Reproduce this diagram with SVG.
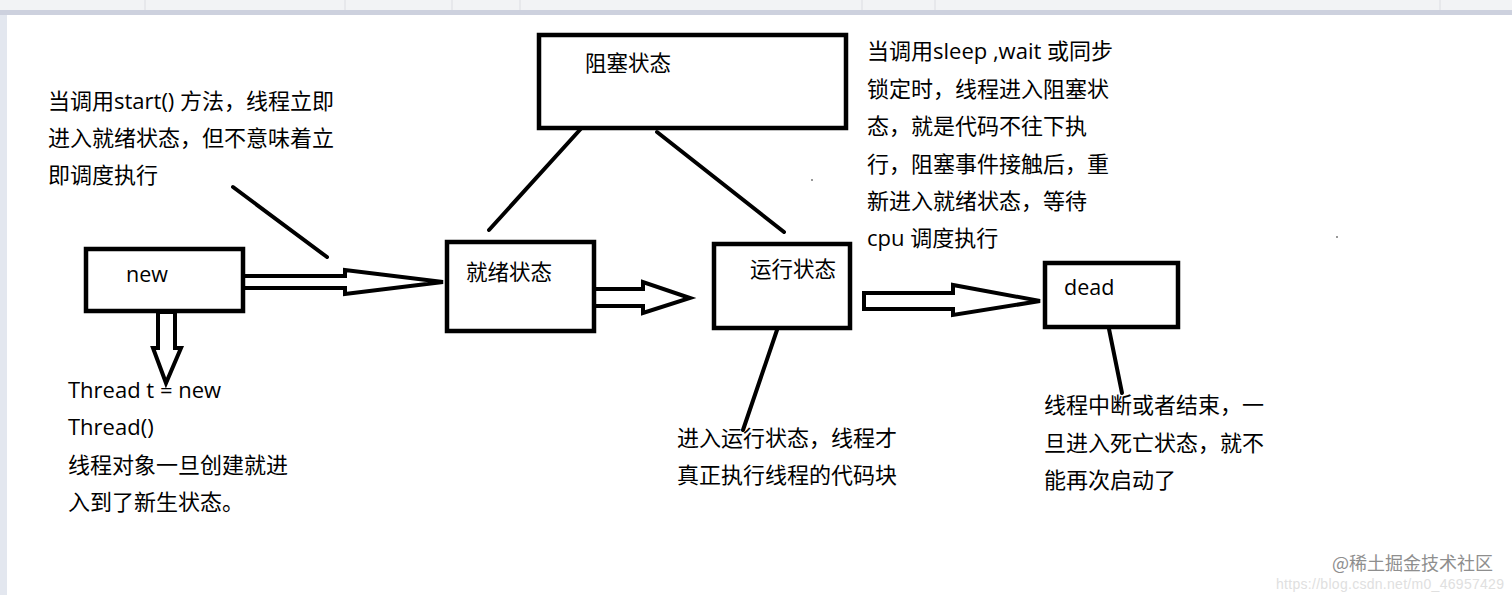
<svg xmlns="http://www.w3.org/2000/svg" width="1512" height="595" viewBox="0 0 1512 595">
<style>
.box{fill:#fff;stroke:#000;stroke-width:4.5}
.lbl{font-family:"Open Sans","Noto Sans CJK SC",sans-serif;font-size:21.5px;fill:#000}
.note{font-family:"Open Sans","Noto Sans CJK SC",sans-serif;font-size:22px;fill:#000}
.ln{stroke:#000;stroke-width:4;fill:none;stroke-linecap:round}
.blk{fill:#fff;stroke:#000;stroke-width:4;stroke-linejoin:miter}
</style>
<rect x="0" y="0" width="1512" height="595" fill="#fff"/>
<g id="chrome">
<rect x="0" y="0" width="1512" height="10" fill="#f2f3f5"/>
<g stroke="#dcdde2" stroke-width="1">
<line x1="145" y1="0" x2="145" y2="10"/><line x1="345" y1="0" x2="345" y2="10"/><line x1="452" y1="0" x2="452" y2="10"/><line x1="520" y1="0" x2="520" y2="10"/><line x1="862" y1="0" x2="862" y2="10"/><line x1="935" y1="0" x2="935" y2="10"/><line x1="1440" y1="0" x2="1440" y2="10"/>
</g>
<rect x="0" y="10" width="1512" height="5" fill="#cdd1de"/>
<rect x="0" y="15" width="7" height="580" fill="#e3e7ef"/>
</g>
<g id="connectors">
<line class="ln" x1="587" y1="122" x2="489" y2="230"/>
<line class="ln" x1="657" y1="132" x2="784" y2="232"/>
<line class="ln" x1="233" y1="187" x2="327" y2="257"/>
<line class="ln" x1="777" y1="330" x2="743" y2="430"/>
<line class="ln" x1="1109" y1="329" x2="1122" y2="393"/>
<polygon class="blk" points="243,276 345,276 345,270 443,282 345,294 345,288 243,288"/>
<polygon class="blk" points="158,312 158,348 153,348 166,383 181,348 175,348 175,312"/>
<polygon class="blk" points="594,289 643,289 643,282 690,298 643,313 643,306 594,306"/>
<polygon class="blk" points="864,293 953,293 953,285 1040,301 953,315 953,309 864,309"/>
</g>
<g id="node-new"><rect class="box" x="86" y="249" width="157" height="62"/><text class="lbl" x="126" y="282">new</text></g>
<g id="node-ready"><rect class="box" x="447" y="242" width="147" height="89"/><text class="lbl" x="466" y="280">就绪状态</text></g>
<g id="node-running"><rect class="box" x="714" y="244" width="136" height="84"/><text class="lbl" x="750" y="277">运行状态</text></g>
<g id="node-blocked"><rect class="box" x="539" y="35" width="307" height="93"/><text class="lbl" x="585" y="71">阻塞状态</text></g>
<g id="node-dead"><rect class="box" x="1045" y="263" width="133" height="64"/><text class="lbl" x="1064" y="295">dead</text></g>
<g id="note-start" class="note">
<text x="48" y="109">当调用start() 方法，线程立即</text>
<text x="48" y="146">进入就绪状态，但不意味着立</text>
<text x="48" y="183">即调度执行</text>
</g>
<g id="note-blocked" class="note">
<text x="867" y="59">当调用sleep ,wait 或同步</text>
<text x="867" y="97">锁定时，线程进入阻塞状</text>
<text x="867" y="134">态，就是代码不往下执</text>
<text x="867" y="172">行，阻塞事件接触后，重</text>
<text x="867" y="209">新进入就绪状态，等待</text>
<text x="867" y="246">cpu 调度执行</text>
</g>
<g id="note-new" class="note">
<text x="68" y="398">Thread t = new</text>
<text x="68" y="435">Thread()</text>
<text x="68" y="473">线程对象一旦创建就进</text>
<text x="68" y="510">入到了新生状态。</text>
</g>
<g id="note-running" class="note">
<text x="677" y="446">进入运行状态，线程才</text>
<text x="677" y="483">真正执行线程的代码块</text>
</g>
<g id="note-dead" class="note">
<text x="1044" y="413">线程中断或者结束，一</text>
<text x="1044" y="451">旦进入死亡状态，就不</text>
<text x="1044" y="488">能再次启动了</text>
</g>
<circle cx="812" cy="180" r="1" fill="#777"/>
<circle cx="1337" cy="237" r="1" fill="#777"/>
<g id="watermark">
<text x="1276" y="589" font-family="'Liberation Sans',sans-serif" font-size="14" fill="#e0e0e0" textLength="228">https://blog.csdn.net/m0_46957429</text>
<text x="1332" y="570" font-family="'Noto Sans CJK SC',sans-serif" font-size="18" fill="#8e8e8e" textLength="161">@稀土掘金技术社区</text>
</g>
</svg>
